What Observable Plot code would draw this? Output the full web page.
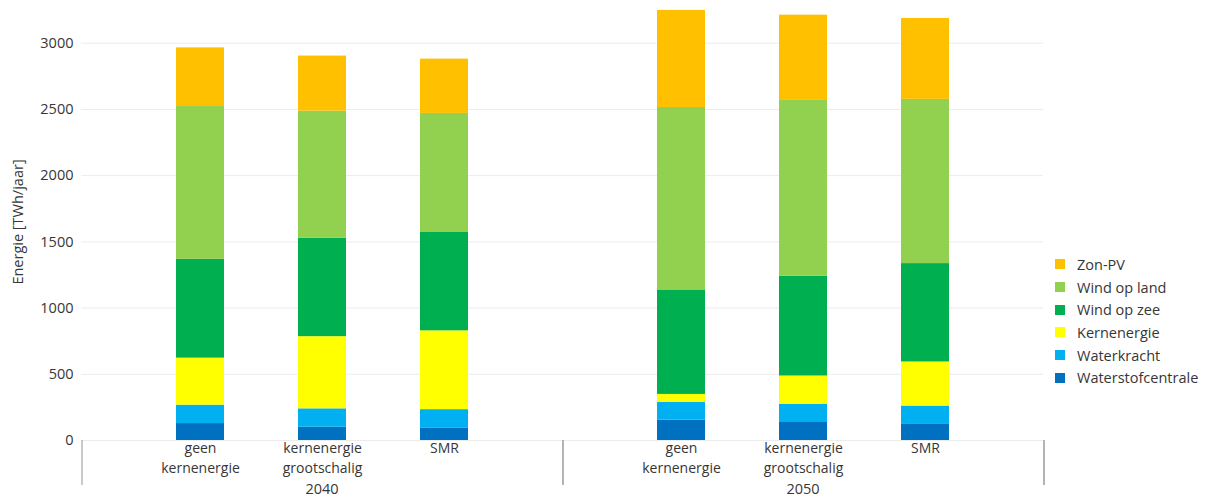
<!DOCTYPE html>
<html><head><meta charset="utf-8">
<script src="https://cdn.jsdelivr.net/npm/d3@7"></script>
<script src="https://cdn.jsdelivr.net/npm/@observablehq/plot@0.6"></script>
<style>
body{margin:0;background:#fff;}
#wrap{position:relative;width:1208px;height:499px;font-family:"Open Sans",sans-serif;color:#363636;}
#legend{position:absolute;left:1055px;top:253px;font-size:14.5px;}
.row{display:flex;align-items:center;height:22.7px;white-space:nowrap;}
.sw{width:10px;height:10px;margin-right:12px;flex:none;}
</style></head><body><div id="wrap"><div id="chart"></div><div id="legend"></div></div>
<script>
const years = ["2040", "2050"];
const scenarios = ["geen kernenergie", "kernenergie grootschalig", "SMR"];
const series = ["Waterstofcentrale", "Waterkracht", "Kernenergie", "Wind op zee", "Wind op land", "Zon-PV"];
const colors = ["#0070C0", "#00B0F0", "#FFFF00", "#00B050", "#92D050", "#FFC000"];
// values per series: 2040 (geen, grootschalig, SMR), 2050 (geen, grootschalig, SMR)
const waterstofcentrale = [128, 100, 95, 154, 136, 126];
const waterkracht = [139, 139, 138, 133, 136, 134];
const kernenergie = [355, 545, 595, 61, 215, 333];
const windOpZee = [746, 743, 747, 789, 753, 743];
const windOpLand = [1154, 960, 895, 1378, 1328, 1240];
const zonPV = [443, 416, 410, 733, 644, 611];
const yTicks = [0, 500, 1000, 1500, 2000, 2500, 3000];
const yLabel = "Energie [TWh/jaar]";

const seriesValues = [waterstofcentrale, waterkracht, kernenergie, windOpZee, windOpLand, zonPV];
const table = [];
series.forEach((s, si) => {
  years.forEach((yr, yi) => {
    scenarios.forEach((sc, ci) => {
      table.push({series: s, year: yr, scenario: sc, value: seriesValues[si][yi * scenarios.length + ci]});
    });
  });
});

function separators(index, scales, values, dimensions) {
  const {width, height, marginBottom, marginLeft, marginRight} = dimensions;
  const y1 = height - marginBottom, y2 = y1 + 45;
  let xs;
  if (scales.fx && Math.abs(width - scales.fx.bandwidth()) < 1) xs = [0, width];
  else if (scales.fx) {
    xs = years.map(y => scales.fx(y));
    xs.push(scales.fx(years[years.length - 1]) + scales.fx.bandwidth());
  } else xs = [marginLeft, width - marginRight];
  const g = d3.create("svg:g").attr("stroke", "#a6a6a6").attr("stroke-width", 1.2);
  xs.forEach(x => g.append("line").attr("x1", x).attr("x2", x).attr("y1", y1).attr("y2", y2));
  return g.node();
}

const line1 = d => d.split(" ")[0];
const line2 = d => d.split(" ").slice(1).join(" ");

const chart = Plot.plot({
  width: 1208,
  height: 499,
  marginLeft: 80,
  marginRight: 165,
  marginTop: 3,
  marginBottom: 59,
  style: {fontFamily: "'Open Sans', sans-serif", fontSize: "14.5px", color: "#363636", background: "white"},
  fx: {domain: years, padding: 0},
  x: {domain: scenarios, paddingInner: 0.61, paddingOuter: 0.77},
  y: {domain: [0, 3300], nice: false},
  color: {domain: series, range: colors},
  marks: [
    Plot.gridY(yTicks, {stroke: "#ececec", strokeOpacity: 1}),
    Plot.barY(table, {fx: "year", x: "scenario", y: "value", fill: "series", order: series}),
    Plot.axisY(yTicks, {tickSize: 0, tickPadding: 8, tickFormat: d => String(d), label: yLabel, labelAnchor: "center", labelArrow: "none", labelOffset: 69}),
    Plot.axisX({tickSize: 0, tickPadding: 3, label: null, fontSize: 14, tickFormat: line1}),
    Plot.axisX({tickSize: 0, tickPadding: 22.5, label: null, fontSize: 14, tickFormat: line2}),
    Plot.axisFx({anchor: "bottom", tickSize: 0, tickPadding: 43, label: null}),
    separators
  ]
});
document.getElementById("chart").appendChild(chart);

const legend = document.getElementById("legend");
series.slice().reverse().forEach(s => {
  const row = document.createElement("div");
  row.className = "row";
  const sw = document.createElement("span");
  sw.className = "sw";
  sw.style.background = colors[series.indexOf(s)];
  const t = document.createElement("span");
  t.textContent = s;
  row.appendChild(sw);
  row.appendChild(t);
  legend.appendChild(row);
});
</script></body></html>
